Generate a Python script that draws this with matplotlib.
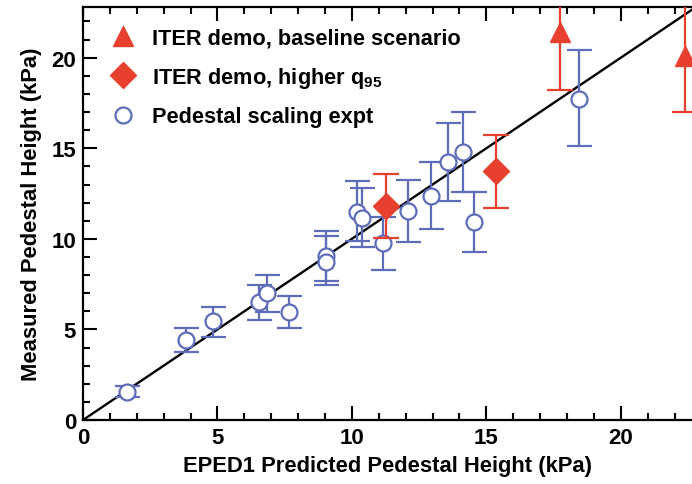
import matplotlib
matplotlib.use("Agg")
import matplotlib.pyplot as plt
import numpy as np
from matplotlib.lines import Line2D

plt.rcParams['font.family'] = ['Liberation Sans', 'DejaVu Sans']
plt.rcParams['font.weight'] = 'bold'
plt.rcParams['mathtext.fontset'] = 'custom'
plt.rcParams['mathtext.bf'] = 'Liberation Sans:bold'
plt.rcParams['mathtext.rm'] = 'Liberation Sans:bold'
plt.rcParams['mathtext.default'] = 'bf'

# Pedestal scaling experiment (blue open circles)
ped_x = [1.64, 3.83, 4.83, 6.54, 6.84, 7.66, 9.03, 9.05, 10.19, 10.37, 11.15, 12.07, 12.94, 13.57, 14.13, 14.54, 18.44]
ped_y = [1.55, 4.42, 5.47, 6.52, 7.02, 5.97, 9.06, 8.70, 11.49, 11.16, 9.78, 11.55, 12.38, 14.27, 14.80, 10.93, 17.70]
ped_hi = [1.85, 5.08, 6.24, 7.46, 8.00, 6.85, 10.44, 10.17, 13.20, 12.80, 11.20, 13.26, 14.25, 16.40, 17.00, 12.60, 20.40]
ped_lo = [1.25, 3.76, 4.59, 5.52, 5.97, 5.08, 7.68, 7.46, 9.90, 9.56, 8.29, 9.83, 10.55, 12.10, 12.60, 9.28, 15.10]

# ITER demo, higher q95 (red diamonds)
q95_x = [11.26, 15.35]
q95_y = [11.82, 13.74]
q95_hi = [13.60, 15.75]
q95_lo = [10.06, 11.70]

# ITER demo, baseline scenario (red triangles)
base_x = [17.73, 22.40]
base_y = [21.40, 20.10]
base_hi = [25.0, 24.5]
base_lo = [18.20, 17.00]

x_ticks = [0, 5, 10, 15, 20]
y_ticks = [0, 5, 10, 15, 20]

red = '#E8402F'
blue = '#5E6DBA'

fig = plt.figure(figsize=(6.92, 4.85), dpi=100)
ax = fig.add_axes([0.12, 0.132, 0.88, 0.8515])

ax.plot([0, 30], [0, 30], color='black', lw=1.7, zorder=2)

def err(y, hi, lo):
    y = np.array(y)
    return [y - np.array(lo), np.array(hi) - y]

ax.errorbar(ped_x, ped_y, yerr=err(ped_y, ped_hi, ped_lo), fmt='o', ms=11.5,
            mfc='white', mec=blue, mew=1.6, ecolor=blue, elinewidth=1.6,
            capsize=9, capthick=1.6, zorder=3)
ax.errorbar(q95_x, q95_y, yerr=err(q95_y, q95_hi, q95_lo), fmt='D', ms=13,
            mfc=red, mec=red, ecolor=red, elinewidth=1.6, capsize=9.5,
            capthick=1.6, zorder=4)
ax.errorbar(base_x, base_y, yerr=err(base_y, base_hi, base_lo), fmt='^', ms=14,
            mfc=red, mec=red, ecolor=red, elinewidth=1.6, capsize=9.5,
            capthick=1.6, zorder=4)

ax.set_xlim(0, 22.65)
ax.set_ylim(0, 22.8)
ax.set_xticks(x_ticks)
ax.set_yticks(y_ticks)
ax.set_xticks(np.arange(0, 23, 1), minor=True)
ax.set_yticks(np.arange(0, 23, 1), minor=True)
ax.tick_params(which='both', direction='in', top=True, right=False, width=1.5,
               labelsize=16, pad=5)
ax.tick_params(which='major', length=10)
ax.tick_params(which='minor', length=5)
for s in ['left', 'bottom', 'top']:
    ax.spines[s].set_linewidth(1.6)
ax.spines['right'].set_visible(False)

ax.set_xlabel('EPED1 Predicted Pedestal Height (kPa)', fontsize=15.8, fontweight='bold', labelpad=5)
ax.set_ylabel('Measured Pedestal Height (kPa)', fontsize=15.8, fontweight='bold', labelpad=7)

hs = [Line2D([], [], marker='^', ls='none', ms=14, mfc=red, mec=red),
      Line2D([], [], marker='D', ls='none', ms=13, mfc=red, mec=red),
      Line2D([], [], marker='o', ls='none', ms=11.5, mfc='white', mec=blue, mew=1.6)]
labels = ['ITER demo, baseline scenario', 'ITER demo, higher q$_{95}$', 'Pedestal scaling expt']
ax.legend(hs, labels, loc='upper left', frameon=False,
          fontsize=15.7, bbox_to_anchor=(-0.01, 1.008), handletextpad=0.35,
          labelspacing=0.75, borderpad=0.6, handlelength=2.0)

fig.savefig('out.png', dpi=100)
